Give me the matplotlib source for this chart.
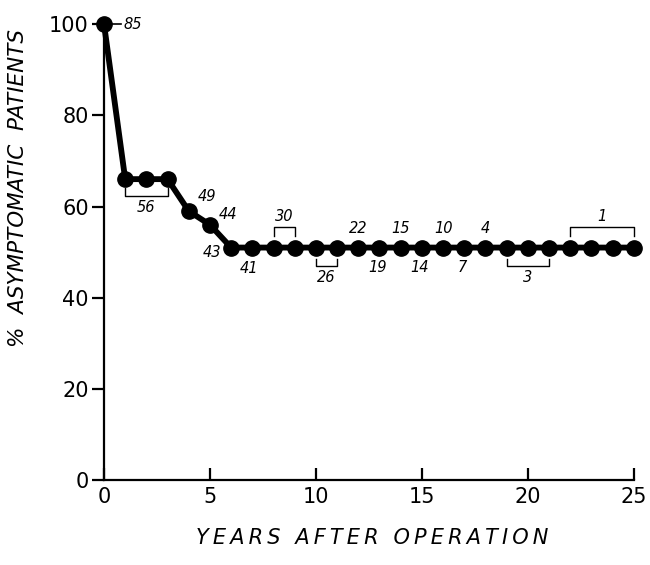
import matplotlib
matplotlib.use("Agg")
import matplotlib.pyplot as plt

# % asymptomatic patients by year after operation
years = list(range(0, 26))
pct = [100, 66, 66, 66, 59, 56, 51, 51, 51, 51, 51, 51, 51,
       51, 51, 51, 51, 51, 51, 51, 51, 51, 51, 51, 51, 51]

# patients at risk: (first year, last year, count)
risk_start = [0, 1, 4, 5, 6, 7, 8, 10, 12, 13, 14, 15, 16, 17, 18, 19, 22]
risk_end = [0, 3, 4, 5, 6, 7, 9, 11, 12, 13, 14, 15, 16, 17, 18, 21, 25]
risk_n = [85, 56, 49, 44, 43, 41, 30, 26, 22, 19, 15, 14, 10, 7, 4, 3, 1]

plt.rcParams['font.family'] = 'DejaVu Sans'

fig = plt.figure(figsize=(6.5, 5.65), dpi=100)
ax = fig.add_axes([0.16, 0.150, 0.815, 0.8075])

ax.plot(years, pct, color='black', lw=4.2, marker='o', ms=11,
        clip_on=False, zorder=3)

ax.set_xlim(0, 25)
ax.set_ylim(0, 100)
ax.set_xticks([0, 5, 10, 15, 20, 25])
ax.set_yticks([0, 20, 40, 60, 80, 100])
ax.spines['top'].set_visible(False)
ax.spines['right'].set_visible(False)
for s in ('left', 'bottom'):
    ax.spines[s].set_linewidth(1.6)
ax.tick_params(axis='x', direction='in', length=9, width=1.6, labelsize=15, pad=5)
ax.tick_params(axis='y', direction='out', length=9, width=1.6, labelsize=15, pad=2)

# widely spaced lettering on the x label
ax.set_xlabel('\u2009'.join('YEARS AFTER OPERATION'), fontsize=15, style='italic')
ax.xaxis.set_label_coords(0.506, -0.105)
ax.set_ylabel('%  ASYMPTOMATIC  PATIENTS', fontsize=15.5, style='italic')
ax.yaxis.set_label_coords(-0.143, 0.64)

# label placement for each at-risk count
lab_kw = dict(fontsize=10.5, style='italic', color='black')
for a, b, n in zip(risk_start, risk_end, risk_n):
    y = pct[a]
    if a != b:
        # bracket spanning several years
        up = a in (8, 22)
        off = 4.4 if up else -4.0
        if a == 1:
            off = -3.6
        tip = 1.8 if up else -1.6
        yb = y + off
        ax.plot([a, a, b, b], [yb - tip, yb, yb, yb - tip], color='black',
                lw=1, clip_on=False)
        ax.text((a + b) / 2, yb + (0.8 if up else -0.9), str(n),
                ha='center', va='bottom' if up else 'top', **lab_kw)
    elif a == 0:
        ax.plot([0.3, 0.8], [y, y], color='black', lw=1.2, clip_on=False)
        ax.text(0.9, y, str(n), ha='left', va='center', **lab_kw)
    elif a == 4:
        ax.text(a + 0.4, y + 1.5, str(n), ha='left', va='bottom', **lab_kw)
    elif a == 5:
        ax.text(a + 0.4, y + 0.5, str(n), ha='left', va='bottom', **lab_kw)
    elif a == 6:
        ax.text(a - 0.45, y - 1.0, str(n), ha='right', va='center', **lab_kw)
    elif a == 7:
        ax.text(a - 0.15, y - 3.0, str(n), ha='center', va='top', **lab_kw)
    elif a in (12, 14, 16, 18):
        ax.text(a, y + 2.5, str(n), ha='center', va='bottom', **lab_kw)
    else:
        ax.text(a - 0.1, y - 2.8, str(n), ha='center', va='top', **lab_kw)

fig.savefig('out.png', dpi=100)
